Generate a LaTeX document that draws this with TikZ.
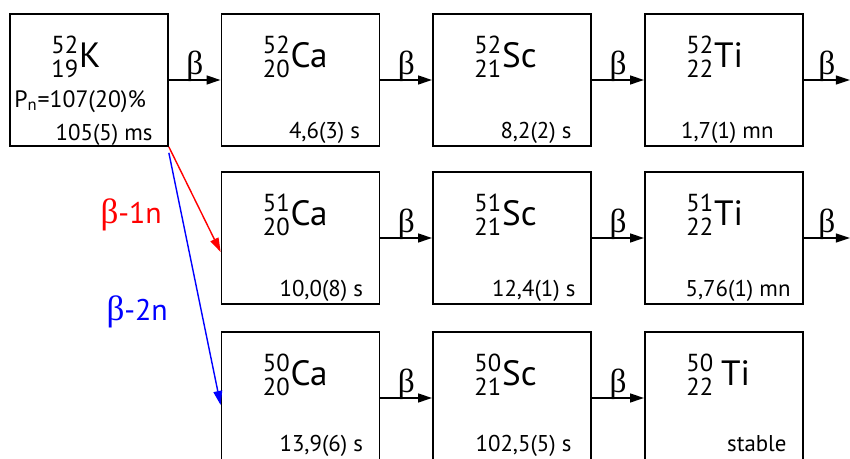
\documentclass[tikz,border=0pt]{standalone}
\usepackage{amsmath}
\usepackage{fontspec}
\setmainfont{PT Sans}
\newfontfamily\greekfont{Liberation Serif}
\usetikzlibrary{arrows.meta,calc}
\newcommand{\nuclide}[3]{${}^{\text{#1}}_{\text{#2}}$#3}
\begin{document}
\begin{tikzpicture}[x=0.02cm,y=-0.02cm]
\tikzset{nucbox/.style={draw,line width=1pt,minimum width=3.16cm,minimum height=2.64cm,inner sep=0pt},
         nucname/.style={anchor=base west,inner sep=0pt,font=\fontsize{20}{24}\selectfont},
         halflife/.style={anchor=base east,inner sep=0pt,font=\fontsize{13}{15}\selectfont},
         decay/.style={line width=1pt,-{Triangle[length=8pt,width=5pt]}},
         betalabel/.style={midway,anchor=base,inner sep=0pt,yshift=3pt,font=\fontsize{19}{22}\greekfont}}
\clip (0,0) rectangle (850,459);
% parent
\node[nucbox] (K) at (89,80) {};
\node[nucname] at ($(K.north west)+(42,54)$) {\nuclide{52}{19}{K}};
\node[anchor=base west,inner sep=0pt,font=\fontsize{13.5}{16}\selectfont] at ($(K.north west)+(5,94)$) {P\textsubscript{n}=107(20)\%};
\node[anchor=base east,inner sep=0pt,font=\fontsize{13}{15}\selectfont] at ($(K.south east)+(-16,-6)$) {105(5) ms};
% A = 52
\node[nucbox] (Ca52) at (300.5,80) {};
\node[nucbox] (Sc52) at (512,80) {};
\node[nucbox] (Ti52) at (724,80) {};
\node[nucname] at ($(Ca52.north west)+(42,54)$) {\nuclide{52}{20}{Ca}};
\node[nucname] at ($(Sc52.north west)+(42,54)$) {\nuclide{52}{21}{Sc}};
\node[nucname] at ($(Ti52.north west)+(42,54)$) {\nuclide{52}{22}{Ti}};
\node[halflife] at ($(Ca52.south east)+(-20,-8)$) {4,6(3) s};
\node[halflife] at ($(Sc52.south east)+(-20,-8)$) {8,2(2) s};
\node[halflife] at ($(Ti52.south east)+(-30,-8)$) {1,7(1) mn};
% A = 51
\node[nucbox] (Ca51) at (300.5,238) {};
\node[nucbox] (Sc51) at (512,238) {};
\node[nucbox] (Ti51) at (724,238) {};
\node[nucname] at ($(Ca51.north west)+(42,54)$) {\nuclide{51}{20}{Ca}};
\node[nucname] at ($(Sc51.north west)+(42,54)$) {\nuclide{51}{21}{Sc}};
\node[nucname] at ($(Ti51.north west)+(42,54)$) {\nuclide{51}{22}{Ti}};
\node[halflife] at ($(Ca51.south east)+(-17,-8)$) {10,0(8) s};
\node[halflife] at ($(Sc51.south east)+(-16,-8)$) {12,4(1) s};
\node[halflife] at ($(Ti51.south east)+(-13,-8)$) {5,76(1) mn};
% A = 50
\node[nucbox] (Ca50) at (300.5,398) {};
\node[nucbox] (Sc50) at (512,398) {};
\node[nucbox] (Ti50) at (724,398) {};
\node[nucname] at ($(Ca50.north west)+(42,54)$) {\nuclide{50}{20}{Ca}};
\node[nucname] at ($(Sc50.north west)+(42,54)$) {\nuclide{50}{21}{Sc}};
\node[nucname] at ($(Ti50.north west)+(42,54)$) {\nuclide{50}{22}{\hspace{4pt}Ti}};
\node[halflife] at ($(Ca50.south east)+(-17,-13)$) {13,9(6) s};
\node[halflife] at ($(Sc50.south east)+(-20,-13)$) {102,5(5) s};
\node[halflife] at ($(Ti50.south east)+(-17,-13)$) {stable};
% beta decays
\coordinate (out52) at (850,80);
\coordinate (out51) at (850,238);
\draw[decay] (K) -- (Ca52) node[betalabel] {β};
\draw[decay] (Ca52) -- (Sc52) node[betalabel] {β};
\draw[decay] (Sc52) -- (Ti52) node[betalabel] {β};
\draw[decay] (Ti52) -- (out52) node[betalabel] {β};
\draw[decay] (Ca51) -- (Sc51) node[betalabel] {β};
\draw[decay] (Sc51) -- (Ti51) node[betalabel] {β};
\draw[decay] (Ti51) -- (out51) node[betalabel] {β};
\draw[decay] (Ca50) -- (Sc50) node[betalabel] {β};
\draw[decay] (Sc50) -- (Ti50) node[betalabel] {β};
% delayed neutron emission
\draw[decay,red,line width=0.8pt] (K.south east) -- ($(Ca51.west)+(0,14)$)
  node[pos=0.65,left=0.8cm,inner sep=0pt,font=\fontsize{17}{20}\selectfont] {{\greekfont\fontsize{20}{22}\selectfont β}-1n};
\draw[decay,blue,line width=0.8pt] ($(K.south east)+(0,6)$) -- ($(Ca50.west)+(0,7)$)
  node[pos=0.63,left=0.66cm,inner sep=0pt,font=\fontsize{17}{20}\selectfont] {{\greekfont\fontsize{20}{22}\selectfont β}-2n};
\end{tikzpicture}
\end{document}
